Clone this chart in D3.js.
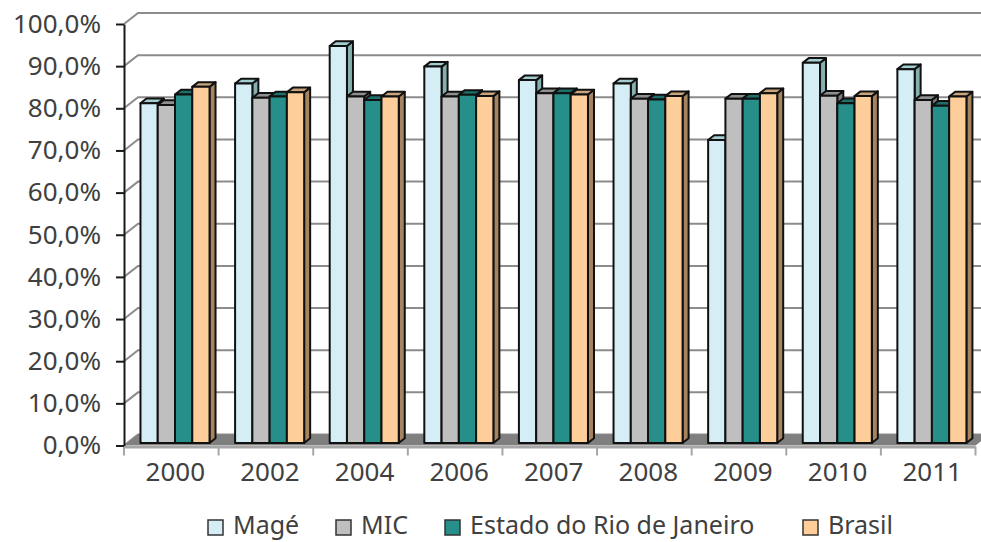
<!DOCTYPE html>
<html>

<head>
  <meta charset="UTF-8" />
  <title>Taxa de frequência</title>
  <style>
    body {
      margin: 0;
      background: #fff;
    }

    svg text {
      font-family: "Noto Sans", sans-serif;
      fill: #404040;
    }
  </style>
  <script src="https://d3js.org/d3.v7.min.js"></script>
</head>

<body>
  <script>
    /* Data */
    let years = ["2000", "2002", "2004", "2006", "2007", "2008", "2009", "2010", "2011"];
    let seriesNames = ["Magé", "MIC", "Estado do Rio de Janeiro", "Brasil"];
    let mage = [80.6, 85.3, 94.2, 89.3, 86.1, 85.3, 71.9, 90.2, 88.7];
    let mic = [80.2, 81.9, 82.2, 82.2, 83.0, 81.7, 81.7, 82.4, 81.4];
    let estado = [82.7, 82.2, 81.4, 82.6, 83.0, 81.5, 81.7, 80.6, 80.0];
    let brasil = [84.5, 83.2, 82.2, 82.3, 82.7, 82.3, 83.0, 82.3, 82.2];
    let yTicks = [0, 10, 20, 30, 40, 50, 60, 70, 80, 90, 100];

    let seriesValues = [mage, mic, estado, brasil];
    /* front, top, side colours for each series */
    let faceColors = [
      ["#d5edf4", "#a3cdcf", "#86afaf"],
      ["#bfbfbf", "#8f8f8f", "#7a7a7a"],
      ["#268f89", "#1e6f6a", "#1a5e5a"],
      ["#fdcd9a", "#c9a47d", "#a6845f"]
    ];

    let width = 981;
    let height = 542;

    /* 3D offsets */
    let wallDepth = { dx: 14, dy: -11 };
    let barShift = { dx: 3.7, dy: -2.5 };
    let barDepth = { dx: 6, dy: -4.7 };

    let svg = d3.select("body")
      .append("svg")
      .attr("width", width)
      .attr("height", height);

    let xScale = d3.scaleBand()
      .domain(years)
      .range([124, 975.5]);

    let xSeries = d3.scaleBand()
      .domain(seriesNames)
      .range([0, xScale.bandwidth()])
      .paddingInner(0)
      .paddingOuter(0.74);

    let yScale = d3.scaleLinear()
      .domain([0, 100])
      .range([445.5, 24]);

    /* Gridlines on back wall */
    svg.append("g")
      .attr("class", "grid")
      .selectAll("path")
      .data(yTicks)
      .enter()
      .append("path")
      .attr("d", t => {
        let y0 = yScale(t);
        return `M124,${y0}L${124 + wallDepth.dx},${y0 + wallDepth.dy}L${width},${y0 + wallDepth.dy}`;
      })
      .attr("fill", "none")
      .attr("stroke", "#8c8c8c")
      .attr("stroke-width", 2);

    /* Floor */
    let x0 = xScale.range()[0];
    let x1 = xScale.range()[1];
    let yf = yScale(0);
    svg.append("path")
      .attr("d", `M${x0},${yf}L${x1},${yf}L${x1 + wallDepth.dx},${yf + wallDepth.dy}L${x0 + wallDepth.dx},${yf + wallDepth.dy}Z`)
      .attr("fill", "#7f7f7f");

    /* X axis line and ticks */
    let xAxis = svg.append("g").attr("id", "x-axis");
    xAxis.append("line")
      .attr("x1", x0).attr("x2", x1)
      .attr("y1", yf + 1.8).attr("y2", yf + 1.8)
      .attr("stroke", "#a6a6a6")
      .attr("stroke-width", 2.5);
    xAxis.selectAll(".xtick")
      .data(d3.range(years.length + 1))
      .enter()
      .append("line")
      .attr("class", "xtick")
      .attr("x1", i => x0 + i * xScale.step())
      .attr("x2", i => x0 + i * xScale.step())
      .attr("y1", yf + 1)
      .attr("y2", yf + 10)
      .attr("stroke", "#a6a6a6")
      .attr("stroke-width", 2);
    xAxis.selectAll(".xlabel")
      .data(years)
      .enter()
      .append("text")
      .attr("class", "xlabel")
      .attr("x", d => xScale(d) + xScale.bandwidth() / 2 + 4)
      .attr("y", 481)
      .attr("text-anchor", "middle")
      .style("font-size", "26px")
      .text(d => d);

    /* Y axis */
    svg.append("g")
      .attr("id", "y-axis")
      .attr("transform", "translate(124,0)")
      .call(d3.axisLeft(yScale)
        .tickValues(yTicks)
        .tickSize(8)
        .tickSizeOuter(0)
        .tickPadding(15)
        .tickFormat(d => d.toFixed(1).replace(".", ",") + "%"))
      .call(g => g.selectAll("line, path").attr("stroke", "#1a1a1a").attr("stroke-width", 2))
      .call(g => g.selectAll("text")
        .style("font-size", "26px")
        .style("font-family", "'Noto Sans', sans-serif")
        .attr("fill", "#404040"));

    /* Bars, drawn cluster by cluster, left to right */
    let bars = [];
    years.forEach((year, i) => {
      seriesNames.forEach((name, s) => {
        bars.push({ year: year, series: name, s: s, value: seriesValues[s][i] });
      });
    });

    let barGroups = svg.append("g")
      .attr("id", "bars")
      .selectAll("g")
      .data(bars)
      .enter()
      .append("g");

    function barCorners(d) {
      let left = xScale(d.year) + xSeries(d.series) + barShift.dx;
      let right = left + xSeries.bandwidth();
      let bottom = yScale(0) + barShift.dy;
      let top = yScale(d.value) + barShift.dy;
      return { left, right, bottom, top };
    }

    barGroups.append("path")
      .attr("d", d => {
        let c = barCorners(d);
        return `M${c.right},${c.top}L${c.right + barDepth.dx},${c.top + barDepth.dy}L${c.right + barDepth.dx},${c.bottom + barDepth.dy}L${c.right},${c.bottom}Z`;
      })
      .attr("fill", d => faceColors[d.s][2]);

    barGroups.append("path")
      .attr("d", d => {
        let c = barCorners(d);
        return `M${c.left},${c.top}L${c.right},${c.top}L${c.right + barDepth.dx},${c.top + barDepth.dy}L${c.left + barDepth.dx},${c.top + barDepth.dy}Z`;
      })
      .attr("fill", d => faceColors[d.s][1]);

    barGroups.append("rect")
      .attr("x", d => barCorners(d).left)
      .attr("y", d => barCorners(d).top)
      .attr("width", xSeries.bandwidth())
      .attr("height", d => barCorners(d).bottom - barCorners(d).top)
      .attr("fill", d => faceColors[d.s][0]);

    /* outlines on top of faces */
    barGroups.selectAll("path, rect")
      .attr("stroke", "#111")
      .attr("stroke-width", 2)
      .attr("stroke-linejoin", "round");

    /* Legend */
    let legendX = [208, 336, 445, 803];
    let legend = svg.append("g").attr("id", "legend");
    let items = legend.selectAll("g")
      .data(seriesNames)
      .enter()
      .append("g")
      .attr("transform", (d, i) => `translate(${legendX[i]},0)`);
    items.append("rect")
      .attr("width", 15)
      .attr("height", 15)
      .attr("y", 520)
      .attr("fill", (d, i) => faceColors[i][0])
      .attr("stroke", "#333")
      .attr("stroke-width", 1.5);
    items.append("text")
      .attr("x", 25)
      .attr("y", 534)
      .style("font-size", "25px")
      .text(d => d);
  </script>
</body>

</html>
